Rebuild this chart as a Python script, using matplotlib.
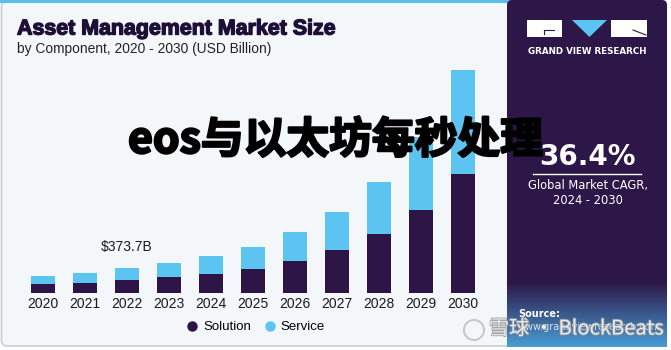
import numpy as np
import matplotlib
matplotlib.use("Agg")
import matplotlib.pyplot as plt
from matplotlib.patches import FancyBboxPatch, Rectangle, Polygon
from matplotlib.lines import Line2D
import matplotlib.patheffects as pe

# ---------------- data ----------------
years = ["2020", "2021", "2022", "2023", "2024", "2025", "2026", "2027", "2028", "2029", "2030"]
solution = [136, 156, 197, 238, 287, 363, 484, 651, 893, 1256, 1796]
service = [121, 142, 177, 211, 273, 338, 434, 570, 782, 1109, 1578]
highlight_label = "$373.7B"
highlight_index = 2
series_names = ["Solution", "Service"]
cagr_text = "36.4%"

title = "Asset Management Market Size"
subtitle = "by Component, 2020 - 2030 (USD Billion)"
overlay = "eos与以太坊每秒处理"

C_SOL = "#2c1447"
C_SER = "#5bc4f0"
C_PANEL = "#2d1748"
C_TITLE = "#1e0f38"

W, H = 671, 350
fig = plt.figure(figsize=(W / 100, H / 100), dpi=100)
fig.patch.set_facecolor("white")

# ---------------- background layer (pixel coords) ----------------
bg = fig.add_axes([0, 0, 1, 1], zorder=0)
bg.set_xlim(0, W)
bg.set_ylim(H, 0)
bg.axis("off")

bg.add_patch(FancyBboxPatch((1.5, 1), 520, 345, boxstyle="round,pad=0,rounding_size=6",
                            facecolor="#f4f7fa", edgecolor="#c9cdd3", linewidth=1.2))
bg.add_patch(Rectangle((0, 0), 510, 3.2, facecolor="#5bbfea", edgecolor="none"))

# right panel
bg.add_patch(FancyBboxPatch((507, 0), 160, 347, boxstyle="round,pad=0,rounding_size=5",
                            facecolor=C_PANEL, edgecolor="none"))
grad = np.linspace(0, 1, 64)[:, None]
c0 = np.array([0x2d, 0x17, 0x48]) / 255
c1 = np.array([0x48, 0x9c, 0xd4]) / 255
img = c0[None, None, :] * (1 - grad[..., None]) + c1[None, None, :] * grad[..., None]
img = np.repeat(img, 2, axis=1)
bg.imshow(img, extent=(507, 667, 347, 282), aspect="auto", interpolation="bilinear", zorder=1)

# logo
bg.add_patch(Rectangle((527, 20), 35, 17, facecolor="white", edgecolor="none", zorder=2))
bg.add_patch(Polygon([(572, 20), (607, 20), (589.5, 37)], closed=True, facecolor="#5bc4f0",
                     edgecolor="none", zorder=2))
bg.add_patch(Rectangle((611, 20), 36, 17, facecolor="white", edgecolor="none", zorder=2))
bg.plot([544, 554], [30, 30], color=C_PANEL, lw=0.8, zorder=3)
bg.plot([544, 544], [30, 34], color=C_PANEL, lw=0.8, zorder=3)
bg.plot([633, 646], [30, 35], color=C_PANEL, lw=0.8, zorder=3)
bg.text(587.5, 52, "GRAND VIEW RESEARCH", color="white", fontsize=6.3, fontweight="bold",
        ha="center", va="center", zorder=3)

bg.text(587.5, 157, cagr_text, color="white", fontsize=20, fontweight="bold",
        ha="center", va="center", zorder=3)
bg.plot([533, 641], [173.5, 173.5], color="white", lw=1.0, zorder=3)
bg.text(587.5, 185, "Global Market CAGR,", color="white", fontsize=8.3,
        ha="center", va="center", zorder=3)
bg.text(587.5, 201, "2024 - 2030", color="white", fontsize=8.3,
        ha="center", va="center", zorder=3)
bg.text(518, 314, "Source:", color="white", fontsize=7, fontweight="bold",
        ha="left", va="center", zorder=3)
bg.text(518, 327, "www.grandviewresearch.com", color="white", fontsize=7, alpha=0.8,
        ha="left", va="center", zorder=3)

# titles
t = bg.text(17, 29, title, color=C_TITLE, fontsize=15.4, fontweight="bold",
            family=["Liberation Sans", "DejaVu Sans"], ha="left", va="center", zorder=3)
t.set_path_effects([pe.withStroke(linewidth=1.0, foreground=C_TITLE)])
bg.text(17, 49.5, subtitle, color="#222222", fontsize=9.9,
        family=["Liberation Sans", "DejaVu Sans"], ha="left", va="center", zorder=3)

# ---------------- chart axes ----------------
base_px, top_px = 293, 60
left_px, right_px = 22, 484
ax = fig.add_axes([left_px / W, 1 - base_px / H, (right_px - left_px) / W, (base_px - top_px) / H],
                  zorder=1)
ax.patch.set_alpha(0)
x = np.arange(len(years))
ax.bar(x, solution, width=0.57, color=C_SOL, label=series_names[0], zorder=2)
ax.bar(x, service, width=0.57, bottom=solution, color=C_SER, label=series_names[1], zorder=2)
ax.set_xlim(-0.5, len(years) - 0.5)
ax.set_ylim(0, 3525)
ax.set_xticks(x)
ax.set_xticklabels(years, fontsize=10, color="#1a1a1a", family=["Liberation Sans", "DejaVu Sans"])
ax.tick_params(axis="x", length=0, pad=3)
ax.set_yticks([])
for s in ax.spines.values():
    s.set_visible(False)

tot = solution[highlight_index] + service[highlight_index]
ax.annotate(highlight_label, (highlight_index, tot), xytext=(0, 10), textcoords="offset points",
            ha="center", va="bottom", fontsize=10, color="#1a1a1a",
            family=["Liberation Sans", "DejaVu Sans"])

handles = [Line2D([], [], marker="o", linestyle="none", markersize=6.5, color=C_SOL),
           Line2D([], [], marker="o", linestyle="none", markersize=6.5, color=C_SER)]
fig.legend(handles, series_names, loc="center", bbox_to_anchor=(254 / W, 1 - 327 / H), ncol=2,
           frameon=False, handletextpad=0.15, columnspacing=0.7, handlelength=1.4,
           prop={"family": ["Liberation Sans", "DejaVu Sans"], "size": 9.5})

# ---------------- overlay texts ----------------
top = fig.add_axes([0, 0, 1, 1], zorder=5)
top.set_xlim(0, W)
top.set_ylim(H, 0)
top.axis("off")
ov = top.text(128, 140, overlay, color="black", fontsize=30.8, fontweight="bold",
              family=["Noto Sans CJK SC", "DejaVu Sans"], ha="left", va="center")
ov.set_path_effects([pe.withStroke(linewidth=1.6, foreground="black")])
wm = top.text(489, 329, "雪球 · BlockBeats", color="#f0f0f0", fontsize=14.5, alpha=0.9,
              family=["Noto Sans CJK SC", "DejaVu Sans"], ha="left", va="center")
wm.set_path_effects([pe.withStroke(linewidth=1.2, foreground="#9a9a9a")])
top.add_patch(plt.Circle((474, 330), 10, facecolor="none", edgecolor="#bbbbbb", lw=1.5, alpha=0.8))

fig.savefig("out.png", dpi=100)
